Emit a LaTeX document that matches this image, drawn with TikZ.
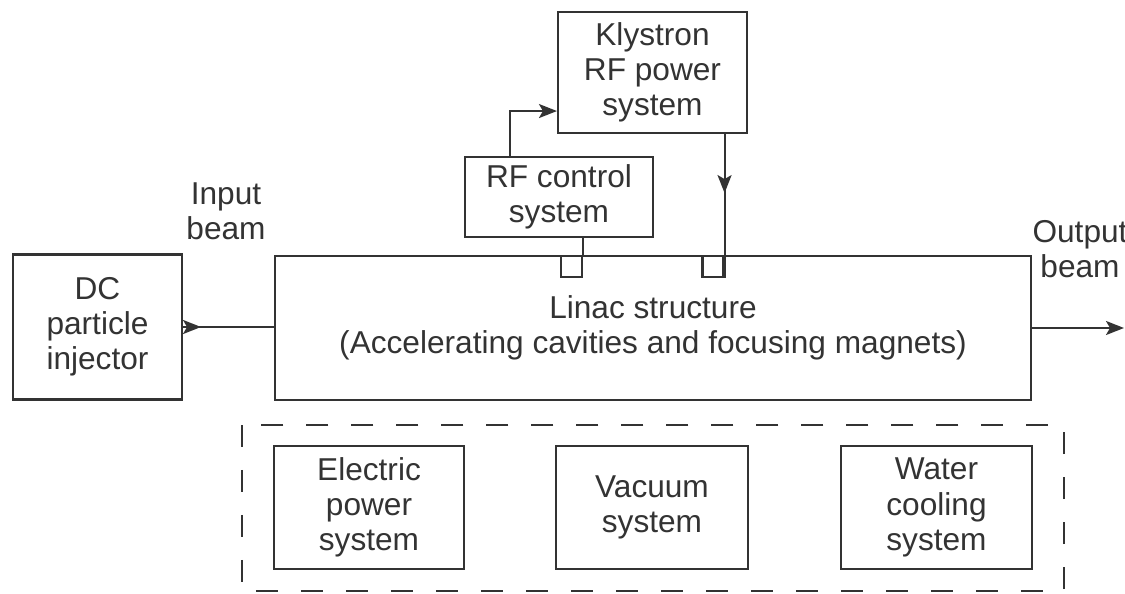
\documentclass[tikz,border=0pt]{standalone}
\usepackage{fontspec}
\setmainfont{Liberation Sans}
\usetikzlibrary{arrows.meta,decorations.markings}

\begin{document}
\begin{tikzpicture}[x=0.02cm,y=-0.02cm,
    line width=1.2pt, color=black!80,
    font=\fontsize{18}{20}\selectfont,
    blk/.style={draw, align=center, inner sep=0pt},
    port/.style={draw, minimum size=0.42cm, inner sep=0pt},
    tip/.style={-{Stealth[length=3.6mm,width=2.8mm,inset=0.8mm]}},
    midtip/.style={postaction={decorate},
      decoration={markings,mark=at position #1 with {\arrow{Stealth[length=3.6mm,width=2.8mm,inset=0.8mm]}}}}]
  \useasboundingbox (0,0) rectangle (1125,594);
  % main line
  \node [blk, minimum width=3.38cm, minimum height=2.9cm] (inj) at (97.5,327) {DC\\particle\\injector};
  \node [blk, minimum width=15.12cm, minimum height=2.88cm] (linac) at (653,328)
    {Linac structure\\(Accelerating cavities and focusing magnets)};
  \node [port] (port1) at (571.5,266.5) {};
  \node [port] (port2) at (713,266.5) {};
  % rf chain
  \node [blk, minimum width=3.78cm, minimum height=2.42cm] (kly) at (652.5,72.5) {Klystron\\RF power\\system};
  \node [blk, minimum width=3.76cm, minimum height=1.6cm] (rf) at (559,197) {RF control\\system};
  % beam labels
  \node [align=center] (inbeam) at (226,211) {Input\\beam};
  \node [align=center] (outbeam) at (1080,249) {Output\\beam};
  \coordinate (out) at (1124,328);
  % auxiliary systems
  \draw [dash pattern=on 0.44cm off 0.46cm] (242,425) rectangle (1064,591);
  \node [blk, minimum width=3.8cm, minimum height=2.46cm] (elec) at (369,507.5) {Electric\\power\\system};
  \node [blk, minimum width=3.84cm, minimum height=2.46cm] (vac) at (652,507.5) {Vacuum\\system};
  \node [blk, minimum width=3.82cm, minimum height=2.46cm] (water) at (936.5,507.5) {Water\\cooling\\system};
  % connectors
  \draw [midtip=0.36cm] (inj.east) -- (inj.east -| linac.west);
  \draw [tip] (linac.east) -- (out);
  \draw [tip] ([xshift=0.92cm]rf.north west) |- ([yshift=0.46cm]kly.south west);
  \draw [midtip=0.41] (kly.south -| port2.east) -- (port2.south east);
  \draw (rf.south -| port1.east) -- (port1.north east);
\end{tikzpicture}
\end{document}
